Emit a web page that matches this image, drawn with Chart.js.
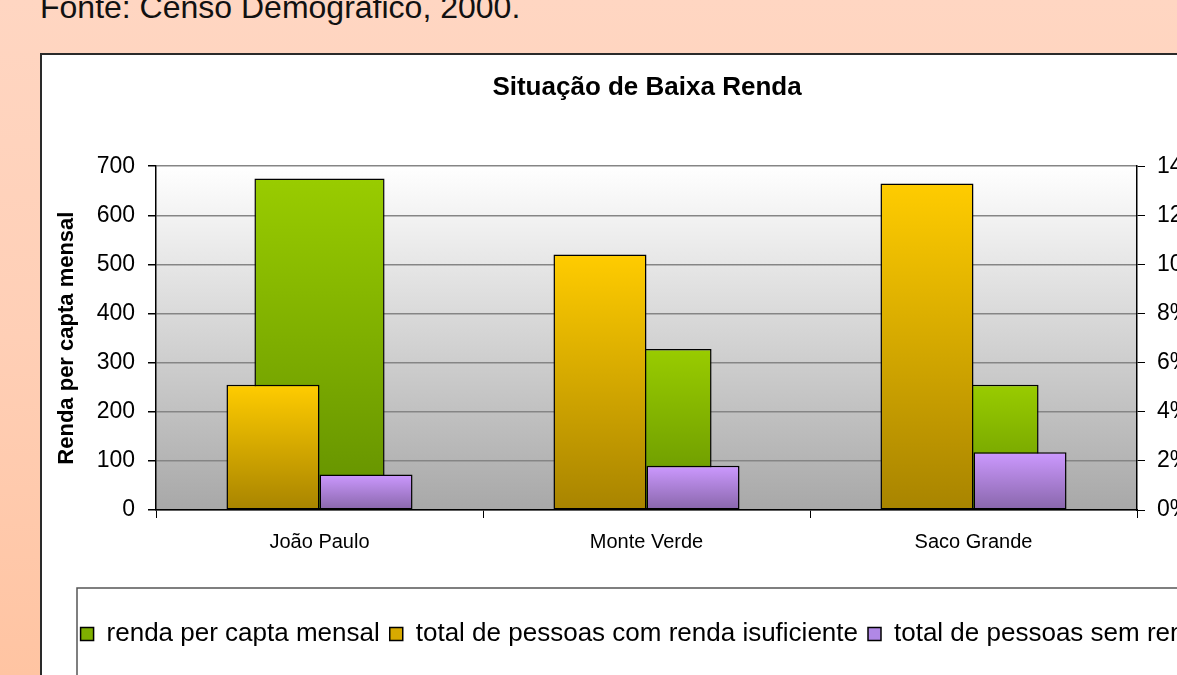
<!DOCTYPE html>
<html>
<head>
<meta charset="utf-8">
<script src="https://cdn.jsdelivr.net/npm/chart.js@4"></script>
<style>
  html, body { margin: 0; padding: 0; width: 1177px; height: 675px; overflow: hidden; }
  body { background: linear-gradient(to bottom, #ffd6c2 0%, #ffcfb6 50%, #ffc4a2 100%); font-family: "Liberation Sans", Arial, sans-serif; position: relative; }
  #fonte { position: absolute; left: 40px; top: -9px; font-size: 32px; line-height: 32px; color: #111; white-space: nowrap; }
  #frame { position: absolute; left: 40px; top: 53px; width: 1212px; height: 660px; background: #fff; border-left: 2px solid #2a2a2a; border-top: 2px solid #2a2a2a; }
  #chart { position: absolute; left: 0; top: 0; }
</style>
</head>
<body>
<div id="fonte">Fonte: Censo Demográfico, 2000.</div>
<div id="frame"><canvas id="chart" width="1210" height="640"></canvas></div>
<script>
// categories and series
const bairros = ["João Paulo", "Monte Verde", "Saco Grande"];
const rendaPerCapta = [675, 328, 255];              // eixo esquerdo
const pessoasRendaInsuficiente = [5.1, 10.4, 13.3]; // eixo direito (%)
const pessoasSemRenda = [1.45, 1.8, 2.35];          // eixo direito (%)

const seriesLabels = [
    "renda per capta mensal",
    "total de pessoas com renda isuficiente",
    "total de pessoas sem renda"
];
const seriesColors = [
    ["#99cc00", "#639000"],
    ["#ffcc00", "#a88400"],
    ["#cc99ff", "#8866aa"]
];
const legendColors = ["#7fb000", "#d8aa00", "#b088e6"];

const leftTicks = [0, 100, 200, 300, 400, 500, 600, 700];
const rightTicks = [0, 2, 4, 6, 8, 10, 12, 14];

const font = "'Liberation Sans', Arial, sans-serif";

// vertical gradient per bar, light on top, dark at the base
function barFill(colors) {
    return (c) => {
        const chart = c.chart;
        if (c.type !== "data" || !chart.chartArea) return colors[0];
        const ds = chart.data.datasets[c.datasetIndex];
        const scale = chart.scales[ds.yAxisID];
        const yTop = scale.getPixelForValue(c.raw);
        const yBase = scale.getPixelForValue(0);
        if (!isFinite(yTop) || !isFinite(yBase) || yTop === yBase) return colors[0];
        const g = chart.ctx.createLinearGradient(0, yTop, 0, yBase);
        g.addColorStop(0, colors[0]);
        g.addColorStop(1, colors[1]);
        return g;
    };
}

const plotBackground = {
    id: "plotBackground",
    beforeDraw(chart) {
        const { ctx, chartArea: a } = chart;
        const g = ctx.createLinearGradient(0, a.top, 0, a.bottom);
        g.addColorStop(0, "#ffffff");
        g.addColorStop(1, "#a8a8a8");
        ctx.save();
        ctx.fillStyle = g;
        ctx.fillRect(a.left, a.top, a.right - a.left, a.bottom - a.top);
        ctx.restore();
    },
    afterDraw(chart) {
        // box round the legend
        const { ctx } = chart;
        const lg = chart.legend;
        ctx.save();
        ctx.strokeStyle = "#555";
        ctx.lineWidth = 1.5;
        ctx.strokeRect(35, lg.top - 23, chart.width - 70, 200);
        ctx.restore();
    }
};

new Chart(document.getElementById("chart").getContext("2d"), {
    type: "bar",
    data: {
        labels: bairros,
        datasets: [
            {
                label: seriesLabels[0],
                data: rendaPerCapta,
                yAxisID: "y",
                grouped: false,
                order: 2,
                categoryPercentage: 0.398,
                barPercentage: 1,
                backgroundColor: barFill(seriesColors[0]),
                borderColor: "#000",
                borderWidth: 1.5,
                borderSkipped: false
            },
            {
                label: seriesLabels[1],
                data: pessoasRendaInsuficiente,
                yAxisID: "y1",
                order: 1,
                categoryPercentage: 0.569,
                barPercentage: 1,
                backgroundColor: barFill(seriesColors[1]),
                borderColor: "#000",
                borderWidth: 1.5,
                borderSkipped: false
            },
            {
                label: seriesLabels[2],
                data: pessoasSemRenda,
                yAxisID: "y1",
                order: 1,
                categoryPercentage: 0.569,
                barPercentage: 1,
                backgroundColor: barFill(seriesColors[2]),
                borderColor: "#000",
                borderWidth: 1.5,
                borderSkipped: false
            }
        ]
    },
    options: {
        responsive: false,
        animation: false,
        layout: { padding: { left: 0, right: 0, top: 0, bottom: 38 } },
        plugins: {
            title: {
                display: true,
                text: "Situação de Baixa Renda",
                color: "#000",
                font: { family: font, size: 26, weight: "bold" },
                padding: { top: 17, bottom: 63 }
            },
            legend: {
                position: "bottom",
                labels: {
                    color: "#000",
                    font: { family: font, size: 26 },
                    boxWidth: 13,
                    boxHeight: 13,
                    padding: 10,
                    sort: (a, b) => a.datasetIndex - b.datasetIndex,
                    generateLabels: (chart) => chart.data.datasets.map((ds, i) => ({
                        text: ds.label,
                        fillStyle: legendColors[i],
                        strokeStyle: "#000",
                        lineWidth: 1.5,
                        fontColor: "#000",
                        datasetIndex: i,
                        hidden: false
                    }))
                }
            },
            tooltip: { enabled: false }
        },
        scales: {
            x: {
                offset: true,
                afterFit: (s) => { s.height = 101; },
                grid: { display: true, drawOnChartArea: false, drawTicks: true, tickLength: 8, tickColor: "#000", offset: true },
                border: { display: true, color: "#000", width: 1.5 },
                ticks: { color: "#000", font: { family: font, size: 20 }, padding: 12 }
            },
            y: {
                position: "left",
                min: 0,
                max: 700,
                afterBuildTicks: (s) => { s.ticks = leftTicks.map(v => ({ value: v })); },
                afterFit: (s) => { s.width = 114; },
                grid: { color: "#858585", lineWidth: 1.5, tickLength: 8, tickColor: "#000" },
                border: { display: true, color: "#000", width: 1.5 },
                ticks: { color: "#000", font: { family: font, size: 23 }, padding: 13 },
                title: {
                    display: true,
                    text: "Renda per capta mensal",
                    color: "#000",
                    font: { family: font, size: 22, weight: "bold" },
                    padding: { top: 12, bottom: 0 }
                }
            },
            y1: {
                position: "right",
                min: 0,
                max: 14,
                afterBuildTicks: (s) => { s.ticks = rightTicks.map(v => ({ value: v })); },
                afterFit: (s) => { s.width = 115; },
                grid: { drawOnChartArea: false, tickLength: 8, tickColor: "#000" },
                border: { display: true, color: "#000", width: 1.5 },
                ticks: { color: "#000", font: { family: font, size: 23 }, padding: 12, callback: (v) => v + "%" }
            }
        }
    },
    plugins: [plotBackground]
});
</script>
</body>
</html>
